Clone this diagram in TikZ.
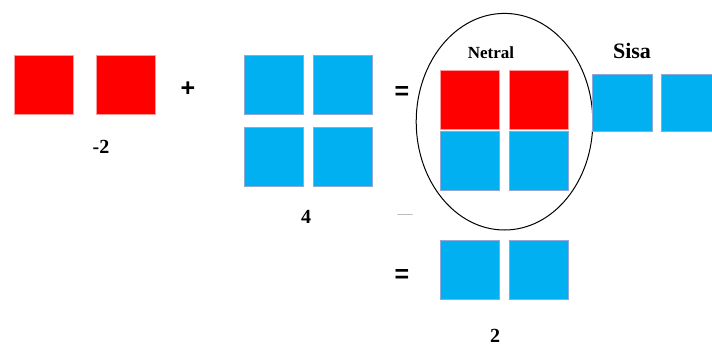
\documentclass[tikz,border=0pt]{standalone}
\usepackage{fontspec}
\usetikzlibrary{shapes.geometric}
\setmainfont{Liberation Serif}
\newfontfamily\symfont{Liberation Sans}
\definecolor{tilered}{HTML}{FF0000}
\definecolor{tileredline}{HTML}{FF9A9A}
\definecolor{tileblue}{HTML}{00B0F0}
\definecolor{tileblueline}{HTML}{8FA8D8}
\begin{document}
\begin{tikzpicture}[x=1pt,y=-1pt,
  redtile/.style={draw=tileredline,line width=0.6pt,fill=tilered,minimum size=59pt,inner sep=0pt,outer sep=0pt},
  bluetile/.style={draw=tileblueline,line width=0.8pt,fill=tileblue,minimum size=59pt,inner sep=0pt,outer sep=0pt},
  lbl/.style={font=\bfseries\fontsize{20}{24}\selectfont,inner sep=0pt},
  op/.style={font=\symfont\bfseries\fontsize{25}{30}\selectfont,inner sep=0pt}]
\useasboundingbox (0,0) rectangle (712,346);
\clip (0,0) rectangle (712,346);
% left term
\node[redtile] (r1) at (43.5,85) {};
\node[redtile] (r2) at (126,85) {};
\node[lbl] (m2) at (101,147) {-2};
\node[op] (plus) at (188,89) {+};
% four blue
\node[bluetile] (b1) at (274,85) {};
\node[bluetile] (b2) at (343,85) {};
\node[bluetile] (b3) at (274,157) {};
\node[bluetile] (b4) at (343,157) {};
\node[lbl] (four) at (306,217) {4};
\node[op] (eq1) at (402,93) {=};
% neutral group
\node[draw=black,line width=1pt,ellipse,minimum width=176.6pt,minimum height=216.6pt,inner sep=0pt] (ell) at (504.5,121.7) {};
\node[font=\bfseries\fontsize{17}{20}\selectfont,inner sep=0pt] (netral) at (491,53) {Netral};
\node[redtile] (nr1) at (470,100) {};
\node[redtile] (nr2) at (539,100) {};
\node[bluetile] (nb1) at (470,160.5) {};
\node[bluetile] (nb2) at (539,160.5) {};
% remaining
\node[font=\bfseries\fontsize{22}{26}\selectfont,inner sep=0pt] (sisa) at (632,51) {Sisa};
\node[bluetile,minimum height=57.5pt,minimum width=60pt] (s1) at (622,103) {};
\node[bluetile,minimum height=57.5pt,minimum width=60pt] (s2) at (691,103) {};
% dash
\node[font=\fontsize{15}{18}\selectfont,text=gray!70,inner sep=0pt] (dash) at (405,217) {—};
% result
\node[op] (eq2) at (402,276) {=};
\node[bluetile] (rb1) at (470,270) {};
\node[bluetile] (rb2) at (539,270) {};
\node[lbl] (two) at (495,335.5) {2};
\end{tikzpicture}
\end{document}
